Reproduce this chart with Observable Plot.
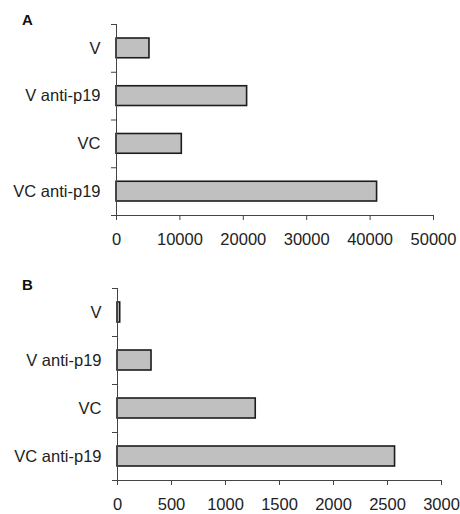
<!DOCTYPE html>
<html><head><meta charset="utf-8">
<script src="https://cdn.jsdelivr.net/npm/d3@7"></script>
<script src="https://cdn.jsdelivr.net/npm/@observablehq/plot@0.6"></script>
<style>
body{margin:0;background:#fff;font-family:"Liberation Sans",Arial,sans-serif;}
.panel{position:relative;width:460px;height:257px;}
.tag{position:absolute;left:22px;font-weight:bold;font-size:15px;line-height:16px;color:#111;}
</style></head><body>
<div id="a" class="panel"><div class="tag" style="top:12px">A</div></div>
<div id="b" class="panel"><div class="tag" style="top:20px">B</div></div>
<script>
const categories = ["V", "V anti-p19", "VC", "VC anti-p19"];
const valuesA = [5200, 20600, 10300, 41100];
const valuesB = [25, 315, 1280, 2570];
const ticksA = [0, 10000, 20000, 30000, 40000, 50000];
const ticksB = [0, 500, 1000, 1500, 2000, 2500, 3000];

function panel(values, ticks, m) {
  const n = categories.length;
  const data = categories.map((c, i) => ({c, i, v: values[i]}));
  return Plot.plot({
    width: 460, height: 257,
    marginLeft: m.left, marginRight: m.right, marginTop: m.top, marginBottom: m.bottom,
    style: {fontFamily: '"Liberation Sans", Arial, sans-serif', fontSize: "16.5px", color: "#222", background: "transparent", overflow: "visible"},
    x: {domain: [ticks[0], ticks[ticks.length - 1]], label: null},
    y: {domain: [0, n], reverse: true, label: null},
    marks: [
      Plot.rect(data, {x1: 0, x2: "v", y1: "i", y2: d => d.i + 1, insetTop: 14, insetBottom: 14,
        fill: "#c0c0c0", stroke: "#1c1c1c", strokeWidth: 1.6}),
      Plot.ruleX([0], {y1: 0, y2: n, stroke: "#444", strokeWidth: 1}),
      Plot.ruleY([n], {stroke: "#444", strokeWidth: 1}),
      Plot.axisY({ticks: d3.range(0, n + 1), tickSize: 5, tickFormat: () => "", label: null, stroke: "#444"}),
      Plot.axisY({ticks: categories.map((c, i) => i + 0.5), tickSize: 0, tickPadding: 16,
        tickFormat: t => categories[Math.floor(t)], label: null, fill: "#222"}),
      Plot.axisX({ticks, tickSize: 5, tickPadding: 13, tickFormat: d => d3.format("d")(d), label: null, stroke: "#444", fill: "#222"})
    ]
  });
}

document.getElementById("a").appendChild(panel(valuesA, ticksA, {left: 116, right: 27, top: 24, bottom: 42}));
document.getElementById("b").appendChild(panel(valuesB, ticksB, {left: 117, right: 19, top: 31, bottom: 34}));
</script>
</body></html>
